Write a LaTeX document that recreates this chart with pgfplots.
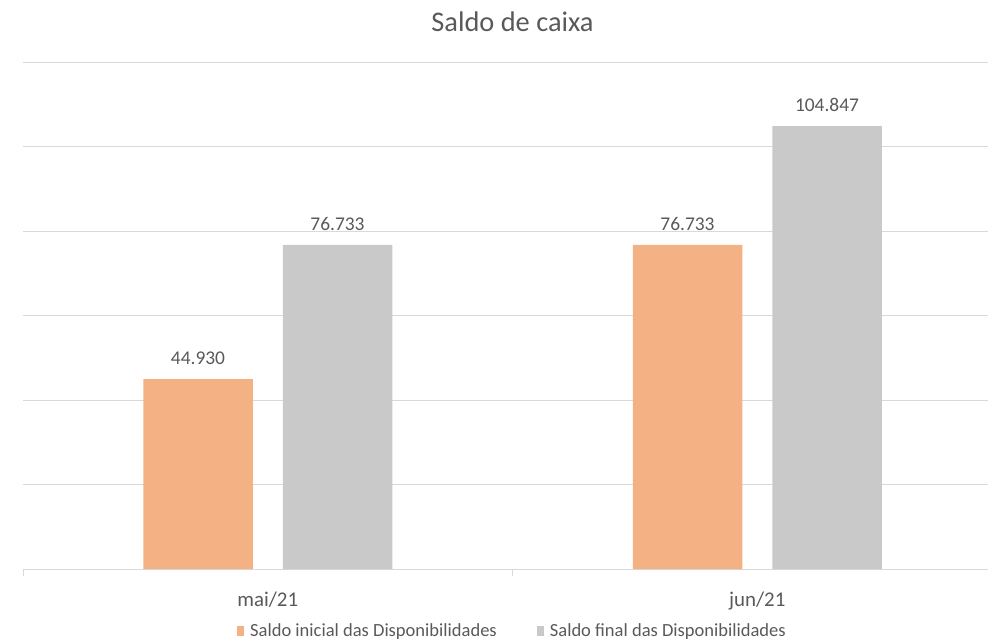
\documentclass[border=0pt]{standalone}
\usepackage{pgfplots}
\pgfplotsset{compat=1.18}
\usepackage{fontspec}
\setmainfont{Carlito}
\definecolor{laranja}{HTML}{F4B183}
\definecolor{cinza}{HTML}{C9C9C9}
\definecolor{grade}{HTML}{D9D9D9}
\definecolor{texto}{HTML}{595959}
\begin{document}
\begin{tikzpicture}
\useasboundingbox (-23bp,-74bp) rectangle (965bp,569bp);
\begin{axis}[
  scale only axis,
  width=979bp, height=507bp,
  ybar,
  bar width=109.5bp,
  xmin=-0.5, xmax=1.5,
  ymin=0, ymax=120000,
  xtick={0,1},
  xticklabels={mai/21, jun/21},
  minor xtick={-0.5,0.5,1.5},
  major tick length=0pt,
  minor tick length=7bp,
  xtick align=outside,
  ytick={0,20000,...,120000},
  yticklabels={},
  scaled y ticks=false,
  ymajorgrids,
  grid style={draw=grade, line width=0.9bp},
  axis x line*=bottom,
  axis y line*=left,
  x axis line style={draw=grade, line width=0.9bp, -},
  y axis line style={draw=none},
  minor x tick style={draw=grade, line width=0.9bp},
  ytick style={draw=none},
  xticklabel style={font=\fontsize{21}{25}\selectfont, text=texto, anchor=base, yshift=-37bp},
  /pgf/number format/assume math mode=true,
  nodes near coords={\pgfmathprintnumber[fixed,precision=0,1000 sep={.}]{\pgfplotspointmeta}},
  every node near coord/.append style={font=\fontsize{19.5}{23}\selectfont, text=texto, anchor=south, inner sep=0pt, yshift=14bp},
  title={Saldo de caixa},
  title style={font=\fontsize{28.5}{33}\selectfont, text=texto, at={(0.5,1)}, anchor=base, yshift=25bp},
  legend columns=2,
  legend style={draw=none, fill=none, at={(0.5,0)}, anchor=center, yshift=-62bp,
    font=\fontsize{18.6}{22}\selectfont, text=texto,
    /tikz/every odd column/.append style={column sep=4bp},
    /tikz/every even column/.append style={column sep=38bp}},
  legend image code/.code={\fill[#1, draw=none] (0bp,-4.5bp) rectangle (7bp,5.5bp);},
]
\addplot[fill=laranja, draw=none, bar shift=-69.75bp] coordinates {(0,44930) (1,76733)};
\addplot[fill=cinza, draw=none, bar shift=69.75bp] coordinates {(0,76733) (1,104847)};
\legend{Saldo inicial das Disponibilidades, Saldo final das Disponibilidades}
\end{axis}
\end{tikzpicture}
\end{document}
